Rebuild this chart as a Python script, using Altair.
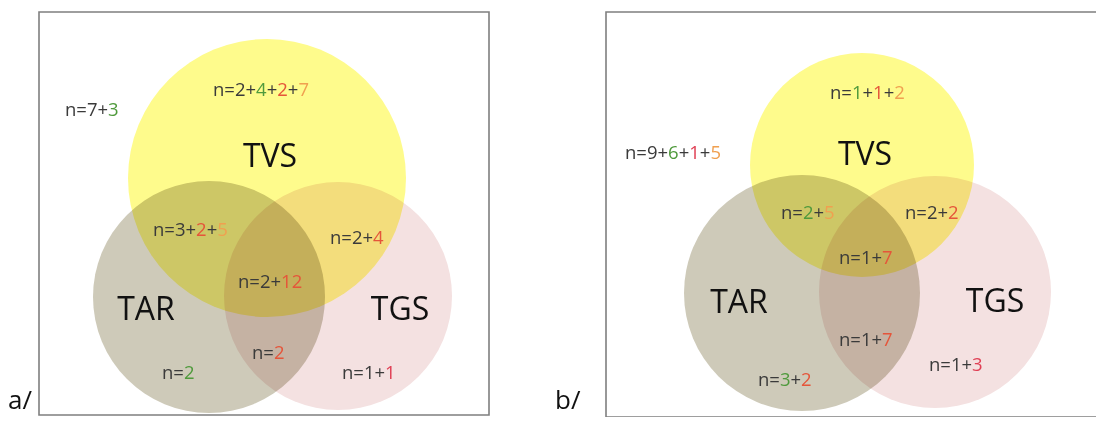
import altair as alt
import pandas as pd

# ---------------- data ----------------
# circles: panel, set name, centre x, centre y, radius (picture pixels)
circle_panel = ["a", "a", "a", "b", "b", "b"]
circle_set = ["TVS", "TAR", "TGS", "TVS", "TAR", "TGS"]
circle_cx = [267, 209, 338, 862, 802, 935]
circle_cy = [178, 297, 296, 165, 293, 292]
circle_r = [139, 116, 114, 112, 118, 116]
set_colors = {"TVS": "#FEFB8C", "TAR": "#CECAB9", "TGS": "#F4E1E1"}

# set names
set_label_text = ["TVS", "TAR", "TGS", "TVS", "TAR", "TGS"]
set_label_x = [270, 146, 400, 865, 739, 995]
set_label_y = [157, 310, 310, 155, 303, 302]

# count labels: left x, middle y, coloured segments
count_x = [65, 213, 153, 330, 238, 252, 162, 342,
           625, 830, 781, 905, 839, 839, 929, 758]
count_y = [110, 90, 230, 238, 282, 353, 373, 373,
           153, 93, 213, 213, 258, 340, 365, 380]
count_segments = [
    [("n=7+", "d"), ("3", "g")],
    [("n=2+", "d"), ("4", "g"), ("+", "d"), ("2", "r"), ("+", "d"), ("7", "o")],
    [("n=3+", "d"), ("2", "r"), ("+", "d"), ("5", "o")],
    [("n=2+", "d"), ("4", "r")],
    [("n=2+", "d"), ("12", "r")],
    [("n=", "d"), ("2", "r")],
    [("n=", "d"), ("2", "g")],
    [("n=1+", "d"), ("1", "p")],
    [("n=9+", "d"), ("6", "g"), ("+", "d"), ("1", "p"), ("+", "d"), ("5", "o")],
    [("n=", "d"), ("1", "g"), ("+", "d"), ("1", "r"), ("+", "d"), ("2", "o")],
    [("n=", "d"), ("2", "g"), ("+", "d"), ("5", "o")],
    [("n=2+", "d"), ("2", "r")],
    [("n=1+", "d"), ("7", "r")],
    [("n=1+", "d"), ("7", "r")],
    [("n=1+", "d"), ("3", "p")],
    [("n=", "d"), ("3", "g"), ("+", "d"), ("2", "r")],
]
text_colors = {"d": "#3a3a3a", "g": "#4f9a3c", "r": "#e5553a",
               "o": "#f0a050", "p": "#e04055"}

# panel letters and frames
panel_letter = ["a/", "b/"]
panel_letter_x = [8, 555]
panel_letter_y = [409, 409]
frame_x = [39, 606]
frame_x2 = [489, 1200]
frame_y = [12, 12]
frame_y2 = [415, 417]

COUNT_FONT = 18.5

# ---------------- tables ----------------
circles = pd.DataFrame({"panel": circle_panel, "set": circle_set,
                        "cx": circle_cx, "cy": circle_cy, "r": circle_r})
circles["color"] = circles["set"].map(set_colors)

set_labels = pd.DataFrame({"text": set_label_text, "x": set_label_x, "y": set_label_y})

rows = []
for i, segs in enumerate(count_segments):
    before = ""
    for s, c in segs:
        rows.append({"label": i, "x": count_x[i], "y": count_y[i],
                     "text": s, "before": before, "color": text_colors[c]})
        before += s
counts = pd.DataFrame(rows)

letters = pd.DataFrame({"text": panel_letter, "x": panel_letter_x, "y": panel_letter_y})
frames = pd.DataFrame({"x": frame_x, "x2": frame_x2, "y": frame_y, "y2": frame_y2})

# ---------------- scales ----------------
W, H = 1088, 409
xs = alt.Scale(domain=[8, 8 + W], nice=False, zero=False)
ys = alt.Scale(domain=[8, 8 + H], nice=False, zero=False, reverse=True)
X = lambda f: alt.X(f"{f}:Q", scale=xs, axis=None)
Y = lambda f: alt.Y(f"{f}:Q", scale=ys, axis=None)

frame_layer = alt.Chart(frames).mark_rect(
    fill=None, fillOpacity=0, stroke="#7f7f7f", strokeWidth=1.6, clip=True
).encode(x=X("x"), x2="x2:Q", y=Y("y"), y2="y2:Q")

circle_layer = alt.Chart(circles).transform_calculate(
    size="4*datum.r*datum.r"
).mark_point(shape="circle", filled=True, opacity=1, strokeWidth=0,
             blend="multiply").encode(
    x=X("cx"), y=Y("cy"),
    size=alt.Size("size:Q", scale=None),
    color=alt.Color("color:N", scale=None),
)

set_layer = alt.Chart(set_labels).mark_text(
    font="Open Sans", fontSize=32, color="#111111", align="center", baseline="middle"
).encode(x=X("x"), y=Y("y"), text="text:N")

# Open Sans advance widths: 'n' 0.614 em, '=', '+' and digits 0.572 em
count_layer = alt.Chart(counts).transform_calculate(
    xs=f"datum.x + {COUNT_FONT}*(length(datum.before) > 0 ? 0.614 + 0.572*(length(datum.before)-1) : 0)"
).mark_text(
    font="Open Sans", fontSize=COUNT_FONT, align="left", baseline="middle"
).encode(x=X("xs"), y=Y("y"), text="text:N", color=alt.Color("color:N", scale=None))

letter_layer = alt.Chart(letters).mark_text(
    font="Open Sans", fontSize=26, color="#111111", align="left", baseline="alphabetic"
).encode(x=X("x"), y=Y("y"), text="text:N")

chart = alt.layer(
    circle_layer, frame_layer, set_layer, count_layer, letter_layer
).properties(width=W, height=H, padding=0, autosize=alt.AutoSizeParams(type="none")
).configure_view(strokeWidth=0)

chart.save("out.html", embed_options={"renderer": "svg", "actions": False})
